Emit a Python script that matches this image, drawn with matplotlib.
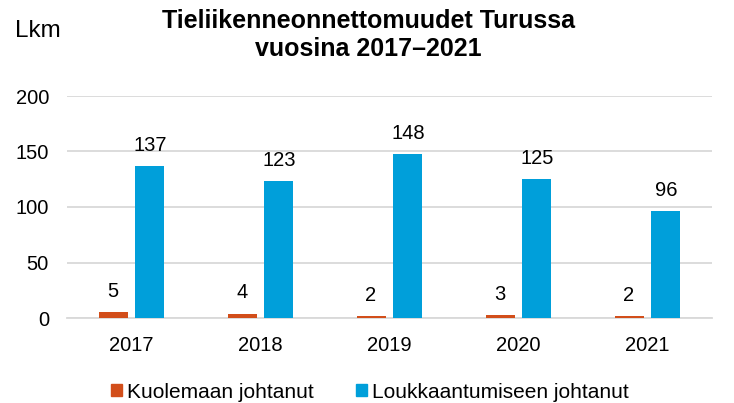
import numpy as np
import matplotlib
matplotlib.use('Agg')
import matplotlib.pyplot as plt
from matplotlib.patches import Patch

plt.rcParams['font.family'] = ['Liberation Sans', 'DejaVu Sans']

vuodet = ['2017', '2018', '2019', '2020', '2021']
kuolemaan = [5, 4, 2, 3, 2]
loukkaantumiseen = [137, 123, 148, 125, 96]

oranssi = '#D24E1A'
sininen = '#009FDA'
harmaa = '#D9D9D9'

fig = plt.figure(figsize=(7.34, 4.03), dpi=100)
ax = fig.add_axes([67/734, 1-318/403, 645/734, 222/403])

x = np.arange(len(vuodet))
w = 0.225
off = 0.143
b1 = ax.bar(x - off, kuolemaan, w, color=oranssi, zorder=3)
b2 = ax.bar(x + off, loukkaantumiseen, w, color=sininen, zorder=3)

for bars, vals in ((b1, kuolemaan), (b2, loukkaantumiseen)):
    for b, v in zip(bars, vals):
        ax.annotate(str(v), (b.get_x() + b.get_width()/2, v),
                    xytext=(0, 8), textcoords='offset points',
                    ha='center', va='bottom', fontsize=14.5, color='#000000')

ax.set_xlim(-0.5, len(vuodet) - 0.5)
ax.set_ylim(0, 200)
ax.set_yticks([0, 50, 100, 150, 200])
ax.set_xticks(x)
ax.set_xticklabels(vuodet)
ax.tick_params(axis='both', length=0, labelsize=14.5, colors='#000000')
ax.tick_params(axis='x', pad=13)
ax.tick_params(axis='y', pad=13)
ax.yaxis.grid(True, color=harmaa, linewidth=1.3, zorder=0)
ax.set_axisbelow(True)
for s in ['top', 'right', 'left']:
    ax.spines[s].set_visible(False)
ax.spines['bottom'].set_color(harmaa)
ax.spines['bottom'].set_linewidth(1.3)
ax.spines['bottom'].set_zorder(1)

fig.text(368/734, 1-9/403, 'Tieliikenneonnettomuudet Turussa\nvuosina 2017–2021',
         ha='center', va='top', fontsize=18, fontweight='bold', linespacing=1.2)
fig.text(15/734, 1-37/403, 'Lkm', ha='left', va='baseline', fontsize=17.5)

handles = [Patch(color=oranssi, label='Kuolemaan johtanut'),
           Patch(color=sininen, label='Loukkaantumiseen johtanut')]
fig.legend(handles=handles, loc='center', bbox_to_anchor=(370/734, 1-392/403),
           ncol=2, frameon=False, fontsize=15, handlelength=0.55, handleheight=0.55,
           handletextpad=0.25, columnspacing=2.0, borderpad=0)

fig.savefig('out.png', dpi=100)
